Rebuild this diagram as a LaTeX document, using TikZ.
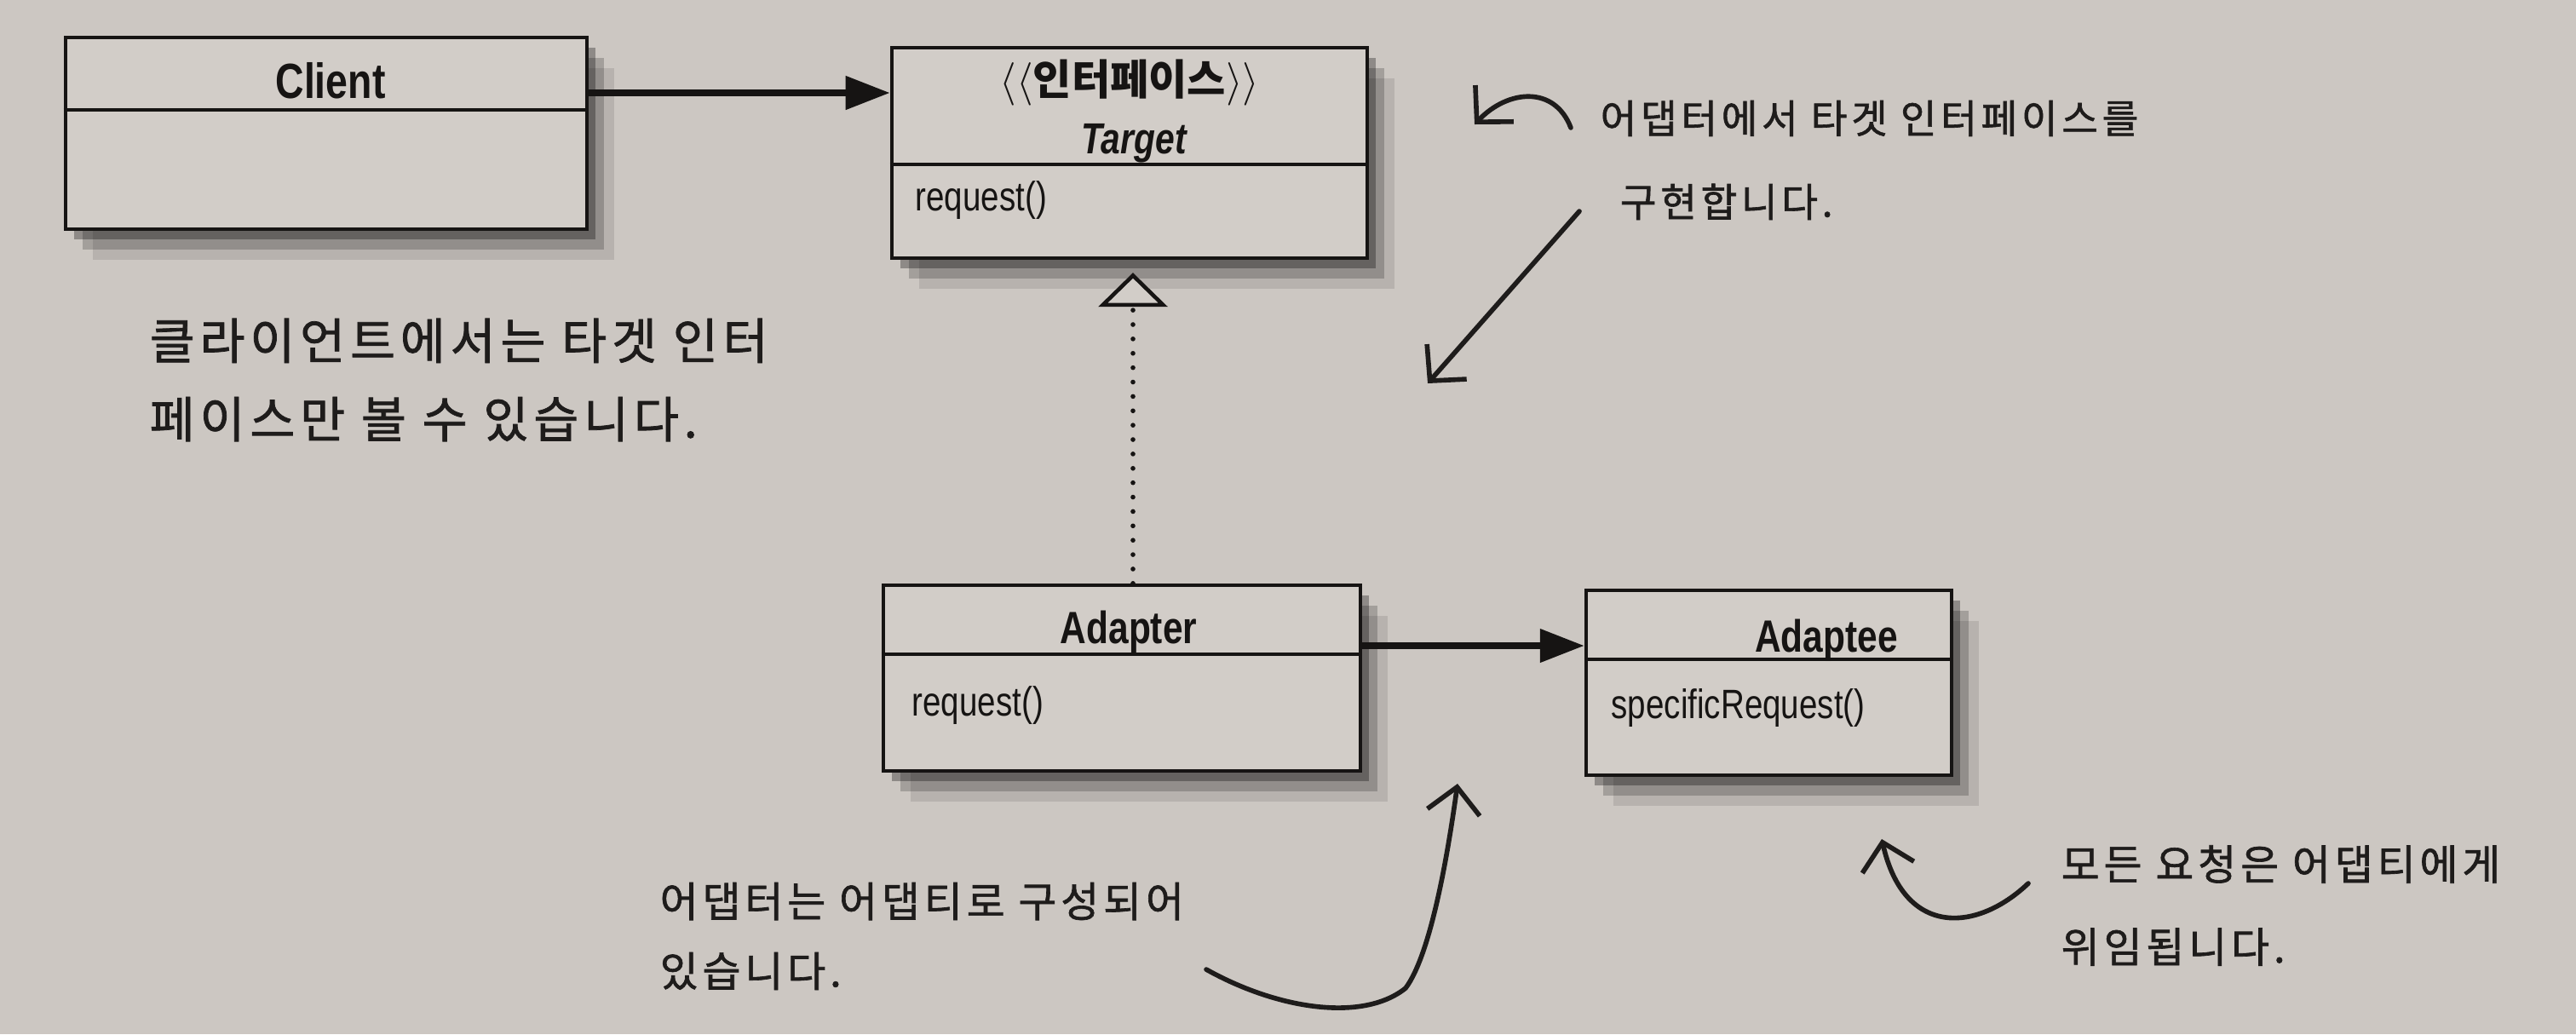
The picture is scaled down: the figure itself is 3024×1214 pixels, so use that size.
\documentclass[tikz,border=0pt]{standalone}
\usepackage{fontspec}
\newfontfamily\umlfont{Liberation Sans}[FakeStretch=0.8]
\newfontfamily\krfont{Noto Sans CJK KR}
\newfontfamily\handfont{Noto Sans CJK KR}[LetterSpace=10,FakeBold=1.3]
\usetikzlibrary{arrows.meta,shadows,calc}
\definecolor{bg}{RGB}{204,199,194}
\definecolor{boxfill}{RGB}{210,205,200}
\definecolor{ink}{RGB}{22,20,19}
\definecolor{pen}{RGB}{30,28,27}
\begin{document}
\begin{tikzpicture}[x=0.01cm,y=-0.01cm,
  shadowed/.style={
    drop shadow={shadow xshift=0.10cm,shadow yshift=-0.12cm,opacity=0.30,fill=black},
    drop shadow={shadow xshift=0.20cm,shadow yshift=-0.24cm,opacity=0.20,fill=black},
    drop shadow={shadow xshift=0.32cm,shadow yshift=-0.36cm,opacity=0.10,fill=black}},
  umlbox/.style={draw=ink, line width=1.2pt, fill=boxfill, inner sep=0pt, shadowed},
  divider/.style={draw=ink, line width=1.2pt},
  title/.style={inner sep=0pt, anchor=base, text=ink, font=\umlfont\bfseries\fontsize{15.1pt}{18pt}\selectfont},
  method/.style={inner sep=0pt, anchor=base west, text=ink, font=\umlfont\fontsize{13.7pt}{16pt}\selectfont},
  assoc/.style={draw=ink, line width=2.2pt, -{Triangle[length=0.52cm,width=0.38cm]}},
  realize/.style={draw=ink, line width=1.6pt, dash pattern=on 0pt off 4.8pt, line cap=round,
    -{Triangle[length=0.40cm,width=0.81cm,fill=boxfill,line width=1.3pt]}},
  pen/.style={draw=pen, line width=1.6pt, line cap=round,
    -{Straight Barb[length=0.3cm,width=0.62cm,line width=1.6pt]}},
  note/.style={inner sep=0pt, anchor=west, align=left, text=pen}
]
\useasboundingbox (0,0) rectangle (3024,1214);
\fill[bg] (0,0) rectangle (3024,1214);

% ---- UML boxes
\node[umlbox, minimum width=6.12cm, minimum height=2.25cm] (client) at (383,156.5) {};
\node[umlbox, minimum width=5.58cm, minimum height=2.47cm] (target) at (1326,179.5) {};
\node[umlbox, minimum width=5.60cm, minimum height=2.18cm] (adapter) at (1317,796) {};
\node[umlbox, minimum width=4.29cm, minimum height=2.17cm] (adaptee) at (2076.5,801.5) {};

\draw[divider] (client.west |- 0,129) -- (client.east |- 0,129);
\draw[divider] (target.west |- 0,193) -- (target.east |- 0,193);
\draw[divider] (adapter.west |- 0,768) -- (adapter.east |- 0,768);
\draw[divider] (adaptee.west |- 0,774) -- (adaptee.east |- 0,774);

\node[title, font=\umlfont\bfseries\fontsize{16.5pt}{19pt}\selectfont] (clientname) at (388,115) {Client};
\node[inner sep=0pt, text=ink, font=\krfont\bfseries\fontsize{14pt}{17pt}\selectfont] (stereo) at (1326,97)
  {$\langle\langle$인터페이스$\rangle\rangle$};
\node[title, font=\umlfont\bfseries\itshape\fontsize{14.5pt}{17pt}\selectfont] (targetname) at (1331,180) {Target};
\node[method] (treq) at (1074,247) {request()};
\node[title] (adaptername) at (1325,755) {Adapter};
\node[method] (areq) at (1070,840) {request()};
\node[title] (adapteename) at (2144,765) {Adaptee};
\node[method] (sreq) at (1891,843) {specificRequest()};

% ---- connectors
\draw[assoc] (client.east |- 0,109) -- (target.west |- 0,109);
\draw[assoc] (adapter.east |- 0,758) -- (adaptee.west |- 0,758);
\coordinate (rtip) at ([xshift=0.04cm,yshift=-0.15cm]target.south);
\draw[realize] (adapter.north -| rtip) -- (rtip);

% ---- handwritten notes
\node[note, font=\handfont\fontsize{16.4pt}{26.2pt}\selectfont] (note1) at (175,446)
  {클라이언트에서는 타겟 인터\\페이스만 볼 수 있습니다.};
\node[note, font=\handfont\fontsize{13.2pt}{27.9pt}\selectfont] (note2) at (1878,188)
  {어댑터에서 타겟 인터페이스를\\\hspace*{0.5em}구현합니다.};
\node[note, font=\handfont\fontsize{13.9pt}{23.3pt}\selectfont] (note3) at (774,1099)
  {어댑터는 어댑티로 구성되어\\있습니다.};
\node[note, font=\handfont\fontsize{13.9pt}{27.6pt}\selectfont] (note4) at (2419,1063)
  {모든 요청은 어댑티에게\\위임됩니다.};

\coordinate (a1s) at (1844,150);
\coordinate (a1t) at (1731,146);
\coordinate (a2s) at (1854,248);
\coordinate (a2t) at (1676,450);
\coordinate (a3s) at (1416,1138);
\coordinate (a3t) at (1711,920);
\coordinate (a4s) at (2381,1037);
\coordinate (a4t) at (2209,985);

\draw[pen] (a1s) .. controls (1825,100) and (1770,105) .. (a1t);
\draw[pen] (a2s) -- (a2t);
\draw[pen] (a3s) .. controls (1500,1185) and (1600,1200) .. (1650,1160)
  .. controls (1680,1120) and (1700,1000) .. (a3t);
\draw[pen] (a4s) .. controls (2320,1095) and (2235,1100) .. (a4t);
\end{tikzpicture}
\end{document}
